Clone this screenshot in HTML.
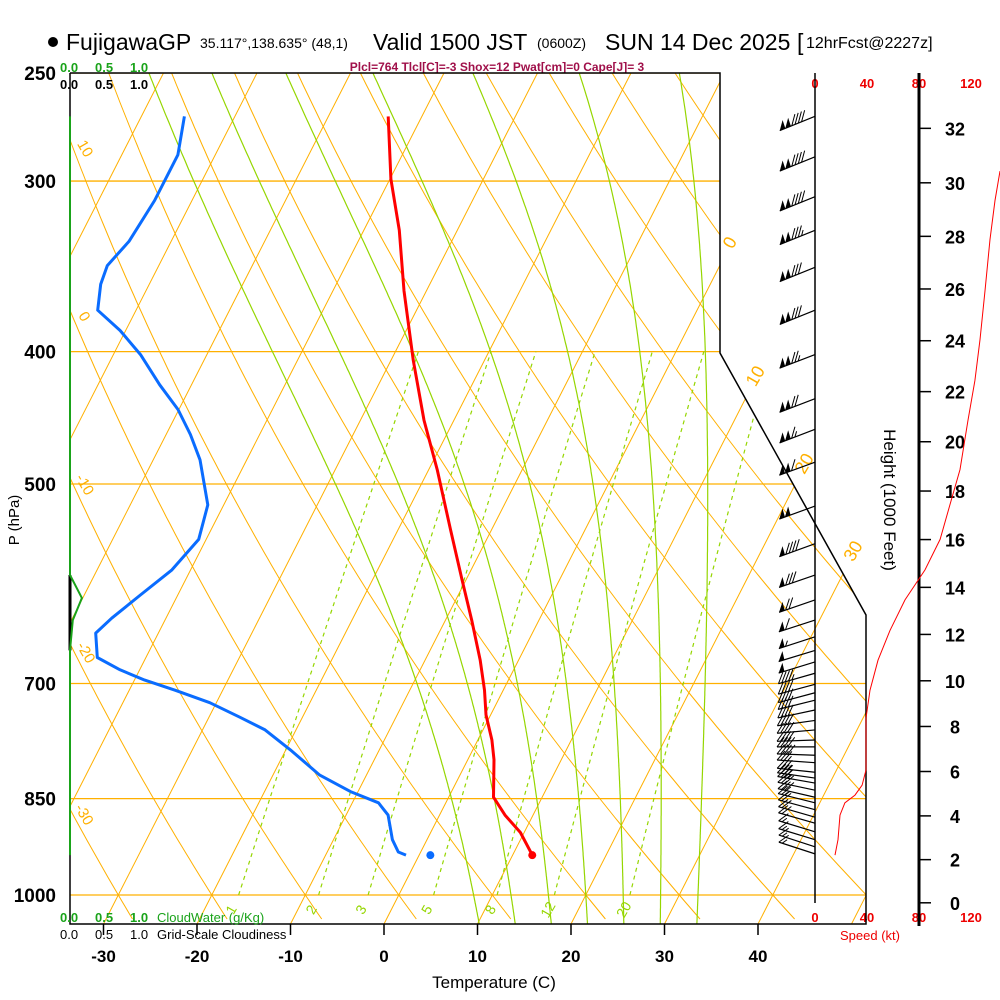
<!DOCTYPE html>
<html><head><meta charset="utf-8">
<style>
html,body{margin:0;padding:0;background:#fff;}
svg{display:block;font-family:"Liberation Sans",Arial,sans-serif;}
</style></head>
<body>
<svg id="chart" width="1000" height="1000" viewBox="0 0 1000 1000" xmlns="http://www.w3.org/2000/svg">
<defs><clipPath id="plotclip"><polygon points="70,73 720,73 720,353 866,615 866,924 70,924"/></clipPath></defs>
<rect width="1000" height="1000" fill="#fff"/>
<g>
<circle cx="53" cy="42" r="5" fill="#000"/>
<text x="66" y="50" font-size="23">FujigawaGP</text>
<text x="200" y="48" font-size="14">35.117°,138.635° (48,1)</text>
<text x="373" y="50" font-size="23">Valid 1500 JST</text>
<text x="537" y="48" font-size="14">(0600Z)</text>
<text x="605" y="50" font-size="23">SUN 14 Dec 2025</text>
<text x="797" y="50" font-size="23">[</text>
<text x="806" y="48" font-size="16">12hrFcst@2227z]</text>
</g>
<text x="497" y="71" font-size="12" font-weight="bold" fill="#a0104a" text-anchor="middle">Plcl=764 Tlcl[C]=-3 Shox=12 Pwat[cm]=0 Cape[J]= 3</text>
<g id="grid" clip-path="url(#plotclip)"></g>
<g id="labels"></g>
<g id="frame">
<polyline points="70,73 720,73 720,353 866,615 866,924 70,924 70,73" fill="none" stroke="#000" stroke-width="1.5"/>
<line x1="815" y1="73" x2="815" y2="903" stroke="#000" stroke-width="1.5"/>
<line x1="919" y1="73" x2="919" y2="926" stroke="#000" stroke-width="3"/>
</g>
<g id="series"></g>
<g font-size="13" font-weight="bold">
<text x="60" y="72" fill="#1aa31a">0.0</text><text x="95" y="72" fill="#1aa31a">0.5</text><text x="130" y="72" fill="#1aa31a">1.0</text>
<text x="60" y="89">0.0</text><text x="95" y="89">0.5</text><text x="130" y="89">1.0</text>
<text x="60" y="922" fill="#1aa31a">0.0</text><text x="95" y="922" fill="#1aa31a">0.5</text><text x="130" y="922" fill="#1aa31a">1.0</text>
<text x="157" y="922" fill="#1aa31a" font-weight="normal">CloudWater (g/Kg)</text>
<text x="60" y="939" font-weight="normal">0.0</text><text x="95" y="939" font-weight="normal">0.5</text><text x="130" y="939" font-weight="normal">1.0</text>
<text x="157" y="939" font-weight="normal">Grid-Scale Cloudiness</text>
</g>
<text x="494" y="988" font-size="17" text-anchor="middle">Temperature (C)</text>
<text transform="translate(19,520) rotate(-90)" font-size="15" text-anchor="middle">P (hPa)</text>
<text transform="translate(884,500) rotate(90)" font-size="17" text-anchor="middle">Height (1000 Feet)</text>
<text x="870" y="940" font-size="13" fill="#e00" text-anchor="middle">Speed (kt)</text>
</svg>
<script>
// ---- data ----
const pressureTicks = [250,300,400,500,700,850,1000];
const tempTicks = [-30,-20,-10,0,10,20,30,40];
const heightTicks = [0,2,4,6,8,10,12,14,16,18,20,22,24,26,28,30,32];
const speedTicks = [0,40,80,120];
const tempP = [269,299,326,361,406,449,488,540,588,629,673,708,738,770,796,848,874,900,935];
const tempT = [-43.6,-39.9,-36.2,-32.4,-27.6,-23.2,-19.1,-14.4,-10.4,-7.2,-4.1,-2.0,-0.5,1.5,2.8,4.8,7.0,9.6,12.1];
const dewP = [269,287,310,332,346,357,373,386,402,423,441,460,480,518,549,578,603,627,643,670,684,696,708,723,741,757,783,817,840,856,874,911,930,935];
const dewT = [-65.4,-64.0,-64.0,-64.5,-65.5,-65.2,-64.1,-60.6,-57.1,-53.4,-50.1,-47.4,-45.0,-41.7,-40.8,-42.0,-44.0,-45.8,-46.7,-45.2,-42.1,-38.9,-35.1,-30.7,-26.7,-23.3,-19.5,-15.0,-10.8,-7.2,-5.5,-3.7,-2.4,-1.4];
const sfcP = 935, sfcT = 12.1, sfcParcelTd = 1.2;
const cwP = [269,583,606,629,662,935];
const cwV = [0,0,0.17,0.04,0,0];
const spdP = [935,911,874,856,845,831,810,757,742,708,673,640,608,578,549,518,488,449,420,392,361,331,310,295];
const spdV = [15.4,17.7,19.2,23,30.8,36.2,39.2,39.2,39.2,42.3,48.5,57.7,69.2,84.6,96.2,103.8,111.5,117.7,123,126.9,130.8,134.6,138.5,142.3];
const barbP = [269,288,308,326,347,373,402,433,456,482,519,553,583,608,629,647,662,675,688,701,711,720,732,745,757,770,779,790,800,813,821,828,838,848,856,866,877,886,899,911,922,933];
const barbSpd = [140,142,138,135,132,128,124,120,115,110,100,92,82,72,62,55,50,48,45,42,40,40,39,39,39,39,39,38,37,36,34,33,31,28,23,21,19,18,17,17,16,15];
const barbDir = [248,248,248,248,248,248,249,249,249,250,250,250,251,251,252,252,253,253,254,255,255,256,258,262,265,268,270,272,274,276,278,280,282,283,284,285,286,286,287,287,288,288];
const isoTemps = [-120,-110,-100,-90,-80,-70,-60,-50,-40,-30,-20,-10,0,10,20,30,40,50];
const thetaVals = [-40,-30,-20,-10,0,10,20,30,40,50,60,70,80,90,100,110,120,130,140,150];
const moistVals = [8,12,16,20,24,28,32];
const mixVals = [1,2,3,5,8,12,20];

// ---- axis functions ----
const Y = p => 895 + 593*Math.log(p/1000);
const X = (T,y) => 384 + 9.35*T + 0.51*(924-y);
const PofY = y => 1000*Math.exp((y-895)/593);
const SX = s => 815 + 1.3*s;
const NS='http://www.w3.org/2000/svg';
function mk(tag, attrs, parent){const e=document.createElementNS(NS,tag);for(const k in attrs)e.setAttribute(k,attrs[k]);parent.appendChild(e);return e;}
const grid=document.getElementById('grid'), labels=document.getElementById('labels'), series=document.getElementById('series');
const ORANGE='#ffb000', GREEN='#95d600';
function pts(arr){return arr.map(a=>a[0].toFixed(1)+','+a[1].toFixed(1)).join(' ');}

// isobars
pressureTicks.forEach(p=>{
  const y=Y(p);
  const l=mk('line',{x1:70,y1:y,x2:866,y2:y,stroke:ORANGE,'stroke-width':1.3},grid);
  
  
  const t=mk('text',{x:56,y:y+7,'font-size':19,'font-weight':'bold','text-anchor':'end'},labels);
  t.textContent=p;
  
  
});
// isotherms
isoTemps.forEach(T=>{
  const l=mk('line',{x1:X(T,924),y1:924,x2:X(T,73),y2:73,stroke:ORANGE,'stroke-width':1},grid);
  
  
  if(T>=0&&T<=30){
    let yi=null;
    for(let y=73;y<=924;y+=0.5){let bx=y<353?720:(y<615?720+(y-353)*146/262:866);if(X(T,y)<=bx){yi=y;break;}}
    if(yi!==null){const ly=yi-22, lx=X(T,ly);
      const t=mk('text',{x:0,y:0,'font-size':18,fill:ORANGE,'text-anchor':'middle',transform:`translate(${lx+4},${ly+2}) rotate(-60)`},labels);
      t.textContent=T;
      
      }
  }
});
// dry adiabats
thetaVals.forEach(th=>{
  const a=[];let lab=null;
  for(let y=73;y<=924;y+=6){const p=PofY(y);const T=(th+273.15)*Math.pow(p/1000,0.2857)-273.15;const x=X(T,y);a.push([x,y]);if(lab===null&&x>=70&&y>75)lab=[x,y];}
  const l=mk('polyline',{points:pts(a),fill:'none',stroke:ORANGE,'stroke-width':1},grid);
  
  
  if(th>=-30&&th<=10&&lab){
    const t=mk('text',{x:0,y:0,'font-size':15,fill:ORANGE,'text-anchor':'middle',transform:`translate(${lab[0]+9},${lab[1]+6}) rotate(60)`},labels);
    t.textContent=th;
    
    
  }
});
// moist adiabats
function es(Tc){return 6.112*Math.exp(17.67*Tc/(Tc+243.5));}
function dTdp(p,T){const Tc=T-273.15;const e=es(Tc);const rs=0.622*e/(p-e);return (287*T+2.5e6*rs)/(p*(1004+2.5e6*2.5e6*rs*0.622/(287*T*T)));}
moistVals.forEach(tw=>{
  const up=[],dn=[];let T=tw+273.15;
  for(let p=1000;p>=245;p-=2){up.push([X(T-273.15,Y(p)),Y(p)]);T-=dTdp(p,T)*2;}
  T=tw+273.15;
  for(let p=1000;p<=1060;p+=2){dn.push([X(T-273.15,Y(p)),Y(p)]);T+=dTdp(p,T)*2;}
  const a=dn.reverse().concat(up);
  const l=mk('polyline',{points:pts(a),fill:'none',stroke:GREEN,'stroke-width':1.2},grid);
  
  
});
// mixing ratio lines
mixVals.forEach(w=>{
  const a=[];
  for(let p=1000;p>=400;p-=10){const e=w*p/(622+w);const L=Math.log(e/6.112);const Td=243.5*L/(17.67-L);a.push([X(Td,Y(p)),Y(p)]);}
  const l=mk('polyline',{points:pts(a),fill:'none',stroke:GREEN,'stroke-width':1.2,'stroke-dasharray':'4,4'},grid);
  
  
  const e=w*1030/(622+w);const L=Math.log(e/6.112);const Td=243.5*L/(17.67-L);
  const t=mk('text',{x:0,y:0,'font-size':14,fill:GREEN,'text-anchor':'middle',transform:`translate(${X(Td,908)},${912}) rotate(-60)`},labels);
  t.textContent=w;
  
  
});
// temperature axis ticks
tempTicks.forEach(T=>{
  const x=X(T,924);
  const l=mk('line',{x1:x,y1:924,x2:x,y2:935,stroke:'#000','stroke-width':1.5},labels);
  
  
  const t=mk('text',{x:x,y:962,'font-size':17,'font-weight':'bold','text-anchor':'middle'},labels);
  t.textContent=T;
  
  
});
// height axis
heightTicks.forEach(h=>{
  const p=1013.25*Math.pow(1-2.25577e-5*h*304.8,5.25588);const y=Y(p);
  const l=mk('line',{x1:919,y1:y,x2:931,y2:y,stroke:'#000','stroke-width':1.5},labels);
  
  
  const t=mk('text',{x:955,y:y+7,'font-size':18,'font-weight':'bold','text-anchor':'middle'},labels);
  t.textContent=h;
  
  
});
// speed ticks
speedTicks.forEach(s=>{
  [88,922].forEach(yy=>{
    const t=mk('text',{x:SX(s),y:yy,'font-size':13,'font-weight':'bold',fill:'#e00','text-anchor':'middle'},labels);
    t.textContent=s;
    
    
  });
});
// cloud water & cloudiness
{
  const l=mk('line',{x1:70,y1:Y(583),x2:70,y2:Y(662),stroke:'#000','stroke-width':3},series);
  
  
  const a=cwP.map((p,i)=>[70+70*cwV[i],Y(p)]);
  const c=mk('polyline',{points:pts(a),fill:'none',stroke:'#1aa31a','stroke-width':2},series);
  
  
}
// wind speed profile
{
  const a=spdP.map((p,i)=>[SX(spdV[i]),Y(p)]);
  const l=mk('polyline',{points:pts(a),fill:'none',stroke:'#f00','stroke-width':1},series);
  
  
}
// barbs
barbP.forEach((p,i)=>{
  const g=mk('g',{},series);
  
  
  const y0=Y(p),x0=815,th=barbDir[i]*Math.PI/180;
  const dx=Math.sin(th),dy=-Math.cos(th),L=38;
  const tx=x0+dx*L,ty=y0+dy*L;
  mk('line',{x1:x0,y1:y0,x2:tx,y2:ty,stroke:'#000','stroke-width':1.2},g);
  const fx=-0.8*dy-0.6*dx, fy=0.8*dx-0.6*dy;
  let s=Math.round(barbSpd[i]/5)*5, d=0;
  const P=t=>[tx-dx*t,ty-dy*t];
  while(s>=50){const a=P(d),b=P(d+6);mk('polygon',{points:`${a[0]},${a[1]} ${a[0]+fx*11},${a[1]+fy*11} ${b[0]},${b[1]}`,fill:'#000'},g);d+=6;s-=50;}
  if(d>0)d+=1;
  while(s>=10){const a=P(d);mk('line',{x1:a[0],y1:a[1],x2:a[0]+fx*12,y2:a[1]+fy*12,stroke:'#000','stroke-width':1},g);d+=3.5;s-=10;}
  if(s>=5){if(d===0)d=3.5;const a=P(d);mk('line',{x1:a[0],y1:a[1],x2:a[0]+fx*6,y2:a[1]+fy*6,stroke:'#000','stroke-width':1},g);}
});
// dewpoint & temperature
{
  const a=dewP.map((p,i)=>[X(dewT[i],Y(p)),Y(p)]);
  const l=mk('polyline',{points:pts(a),fill:'none',stroke:'#0a6cff','stroke-width':3,'stroke-linejoin':'round'},series);
  
  
  const b=tempP.map((p,i)=>[X(tempT[i],Y(p)),Y(p)]);
  const m=mk('polyline',{points:pts(b),fill:'none',stroke:'#f00','stroke-width':3,'stroke-linejoin':'round'},series);
  
  
  const c1=mk('circle',{cx:X(sfcT,Y(sfcP)),cy:Y(sfcP),r:4,fill:'#f00'},series);
  
  
  const c2=mk('circle',{cx:X(sfcParcelTd,Y(sfcP)),cy:Y(sfcP),r:4,fill:'#0a6cff'},series);
  
  
}
</script>
</body></html>
